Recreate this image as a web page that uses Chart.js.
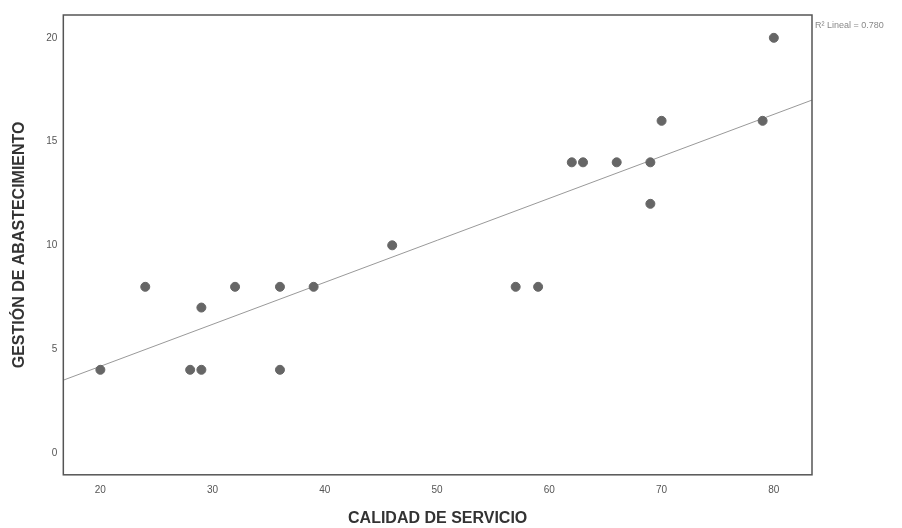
<!DOCTYPE html>
<html>
<head>
<meta charset="utf-8">
<script src="https://cdn.jsdelivr.net/npm/chart.js@4"></script>
<style>
  html, body { margin: 0; padding: 0; background: #fff; }
  #wrap { width: 902px; height: 528px; }
</style>
</head>
<body>
<div id="wrap"><canvas id="scatter"></canvas></div>
<script>
// scatter values
const calidad = [20, 24, 28, 29, 29, 32, 36, 36, 39, 46, 57, 59, 62, 63, 66, 69, 69, 70, 79, 80];
const gestion = [4, 8, 4, 4, 7, 8, 8, 4, 8, 10, 8, 8, 14, 14, 14, 14, 12, 16, 16, 20];

// fitted line as drawn (slope / intercept)
const fitSlope = 0.2024;
const fitIntercept = 0.12;
const rSquared = '0.780';

// axis ranges and ticks
const xRange = [16.7, 83.4];
const yRange = [-1.06, 21.1];
const xTicks = [20, 30, 40, 50, 60, 70, 80];
const yTicks = [0, 5, 10, 15, 20];

const points = calidad.map((x, i) => ({ x: x, y: gestion[i] }));
const fitLine = xRange.map(x => ({ x: x, y: fitIntercept + fitSlope * x }));

// box around the plot + the R² note at the top right
const frame = {
    id: 'frame',
    afterDatasetsDraw(chart) {
        const { ctx, chartArea: a } = chart;
        ctx.save();
        ctx.strokeStyle = '#555';
        ctx.lineWidth = 1.5;
        ctx.strokeRect(a.left, a.top, a.right - a.left, a.bottom - a.top);
        ctx.fillStyle = '#888';
        ctx.font = '9px "Liberation Sans", Arial, sans-serif';
        ctx.textBaseline = 'middle';
        ctx.fillText('R\u00B2 Lineal = ' + rSquared, a.right + 3, a.top + 11);
        ctx.restore();
    }
};

new Chart(document.getElementById('scatter'), {
    type: 'scatter',
    data: {
        datasets: [
            {
                label: 'datos',
                data: points,
                backgroundColor: '#666',
                borderColor: '#666',
                pointRadius: 4.5,
                pointHoverRadius: 4.5
            },
            {
                type: 'line',
                label: 'ajuste',
                data: fitLine,
                borderColor: '#999',
                borderWidth: 1,
                pointRadius: 0,
                fill: false
            }
        ]
    },
    options: {
        responsive: true,
        maintainAspectRatio: false,
        animation: false,
        layout: { padding: { top: 15, right: 90, left: 6, bottom: 0 } },
        plugins: { legend: { display: false }, tooltip: { enabled: false } },
        scales: {
            x: {
                type: 'linear',
                min: xRange[0],
                max: xRange[1],
                afterBuildTicks: axis => { axis.ticks = xTicks.map(v => ({ value: v })); },
                grid: { display: false, drawTicks: false },
                border: { display: false },
                ticks: { color: '#555', font: { family: '"Liberation Sans", Arial', size: 10 }, padding: 9 },
                title: {
                    display: true,
                    text: 'CALIDAD DE SERVICIO',
                    color: '#333',
                    font: { family: '"Liberation Sans", Arial', size: 16, weight: 'bold' },
                    padding: { top: 4, bottom: 0 }
                }
            },
            y: {
                type: 'linear',
                min: yRange[0],
                max: yRange[1],
                afterBuildTicks: axis => { axis.ticks = yTicks.map(v => ({ value: v })); },
                grid: { display: false, drawTicks: false },
                border: { display: false },
                ticks: { color: '#555', font: { family: '"Liberation Sans", Arial', size: 10 }, padding: 6 },
                title: {
                    display: true,
                    text: 'GESTIÓN DE ABASTECIMIENTO',
                    color: '#333',
                    font: { family: '"Liberation Sans", Arial', size: 16, weight: 'bold' },
                    padding: { top: 4, bottom: 11 }
                }
            }
        }
    },
    plugins: [frame]
});
</script>
</body>
</html>
